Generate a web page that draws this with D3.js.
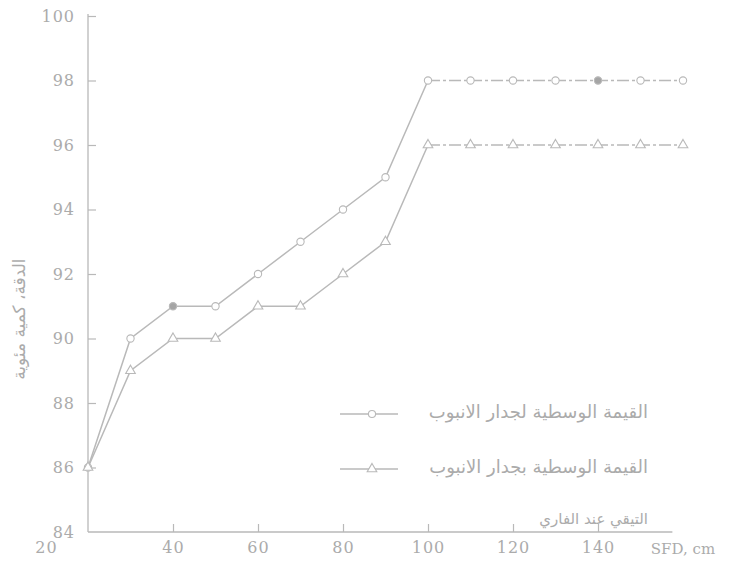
<!DOCTYPE html>
<html>
<head>
<meta charset="utf-8">
<script src="https://cdn.jsdelivr.net/npm/d3@7"></script>
<style>
  html, body { margin: 0; padding: 0; background: #fff; }
  svg { display: block; }
  .num { font-family: "DejaVu Serif", "Liberation Serif", serif; }
  .ar { font-family: "DejaVu Sans", sans-serif; }
</style>
</head>
<body>
<svg id="chart" width="748" height="576"></svg>
<script>
// Distance along the pipe (SFD, cm)
const distances = [20, 30, 40, 50, 60, 70, 80, 90, 100, 110, 120, 130, 140, 150, 160];
// Mean value at the pipe wall (circles)
const wallValues = [86, 90, 91, 91, 92, 93, 94, 95, 98, 98, 98, 98, 98, 98, 98];
// Mean value along the pipe (triangles)
const pipeValues = [86, 89, 90, 90, 91, 91, 92, 93, 96, 96, 96, 96, 96, 96, 96];
// Axis ticks
const xTickValues = [20, 40, 60, 80, 100, 120, 140];
const yTickValues = [84, 86, 88, 90, 92, 94, 96, 98, 100];
const xAxisTitle = "SFD, cm";
const yAxisTitle = "الدقة، كمية مئوية";
const legendLabels = [
  "القيمة الوسطية لجدار الانبوب",
  "القيمة الوسطية بجدار الانبوب",
  "التيقي عند الفاري"
];
const legendFontSizes = [18, 18, 15];

const ink = "#b9b9b9";
const textInk = "#ababab";

const svg = d3.select("#chart");

const x = d3.scaleLinear().domain([20, 160]).range([88, 683]);
const y = d3.scaleLinear().domain([84, 100]).range([532, 16]);

// y axis with inward ticks
const yAxis = svg.append("g")
  .attr("transform", `translate(${x(20)},0)`)
  .call(d3.axisLeft(y).tickValues(yTickValues).tickSize(-8).tickPadding(13).tickSizeOuter(0));
yAxis.select(".domain").remove();
yAxis.selectAll(".tick line").attr("stroke", ink).attr("stroke-width", 1.2)
  .filter(d => d === 84).remove();
yAxis.selectAll(".tick text").attr("class", "num").attr("fill", textInk)
  .attr("font-size", 16).attr("letter-spacing", 1);
svg.append("line")
  .attr("x1", x(20)).attr("x2", x(20))
  .attr("y1", y(100) - 2).attr("y2", y(84))
  .attr("stroke", ink).attr("stroke-width", 1.3);

// x axis with inward ticks
const xAxis = svg.append("g")
  .attr("transform", `translate(0,${y(84)})`)
  .call(d3.axisBottom(x).tickValues(xTickValues).tickSize(-8).tickPadding(10).tickSizeOuter(0));
xAxis.select(".domain").remove();
xAxis.selectAll(".tick line").attr("stroke", ink).attr("stroke-width", 1.2)
  .filter(d => d === 20).remove();
xAxis.selectAll(".tick text").attr("class", "num").attr("fill", textInk)
  .attr("font-size", 16).attr("letter-spacing", 1)
  .attr("dx", d => d === 20 ? -42 : 0);
svg.append("line")
  .attr("x1", x(20)).attr("x2", x(157.5))
  .attr("y1", y(84)).attr("y2", y(84))
  .attr("stroke", ink).attr("stroke-width", 1.3);

svg.append("text").attr("class", "num")
  .attr("x", x(160)).attr("y", y(84) + 22)
  .attr("text-anchor", "middle").attr("fill", textInk)
  .attr("font-size", 15).text(xAxisTitle);

svg.append("text").attr("class", "ar")
  .attr("transform", `translate(25,${y(90.6)}) rotate(-90)`)
  .attr("text-anchor", "middle").attr("direction", "rtl")
  .attr("fill", textInk).attr("font-size", 17).text(yAxisTitle);

// series
const wall = distances.map((d, i) => ({ d, v: wallValues[i] }));
const pipe = distances.map((d, i) => ({ d, v: pipeValues[i] }));
const line = d3.line().x(p => x(p.d)).y(p => y(p.v));

function drawSeries(data, marker) {
  svg.append("path").datum(data.filter(p => p.d <= 100))
    .attr("d", line).attr("fill", "none")
    .attr("stroke", ink).attr("stroke-width", 1.5);
  svg.append("path").datum(data.filter(p => p.d >= 100))
    .attr("d", line).attr("fill", "none")
    .attr("stroke", ink).attr("stroke-width", 1.5)
    .attr("stroke-dasharray", "12,3,3,3");
  svg.append("g").selectAll("path").data(data).join("path")
    .attr("transform", p => `translate(${x(p.d)},${y(p.v)})`)
    .attr("d", d3.symbol().type(marker).size(marker === d3.symbolCircle ? 42 : 40))
    .attr("fill", (p, i) => marker === d3.symbolCircle && (i === 2 || i === 12) ? "#a5a5a5" : "#fff")
    .attr("stroke", ink).attr("stroke-width", 1.1);
}
drawSeries(wall, d3.symbolCircle);
drawSeries(pipe, d3.symbolTriangle);

// legend
const legendRows = [412, 467, 518];
const legend = svg.append("g");
legendLabels.forEach((label, i) => {
  const ly = legendRows[i];
  if (i < 2) {
    legend.append("line")
      .attr("x1", 340).attr("x2", 398).attr("y1", ly + 2).attr("y2", ly + 2)
      .attr("stroke", ink).attr("stroke-width", 1.4);
    legend.append("path")
      .attr("transform", `translate(372,${ly + 2})`)
      .attr("d", d3.symbol().type(i === 0 ? d3.symbolCircle : d3.symbolTriangle).size(40))
      .attr("fill", "#fff").attr("stroke", ink).attr("stroke-width", 1.1);
  }
  legend.append("text").attr("class", "ar")
    .attr("x", 648).attr("y", ly + 6)
    .attr("text-anchor", "start").attr("direction", "rtl")
    .attr("fill", textInk).attr("font-size", legendFontSizes[i]).text(label);
});
</script>
</body>
</html>
